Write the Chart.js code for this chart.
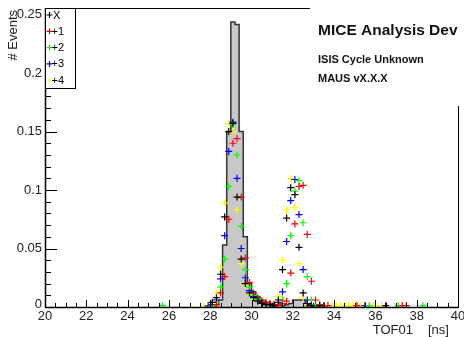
<!DOCTYPE html>
<html>
<head>
<meta charset="utf-8">
<script src="https://cdn.jsdelivr.net/npm/chart.js@4.4.1/dist/chart.umd.min.js"></script>
<style>
  body { margin: 0; background: #fff; }
  canvas { display: block; }
</style>
</head>
<body>
<canvas id="tofChart" width="464" height="337"></canvas>
<script>
// TOF01 bin centres (0.2 ns bins) around the two peaks
var tofBins = [27.7, 27.9, 28.1, 28.3, 28.5, 28.7, 28.9, 29.1, 29.3, 29.5,
               29.7, 29.9, 30.1, 30.3, 30.5, 30.7, 30.9, 31.1, 31.3, 31.5,
               31.7, 31.9, 32.1, 32.3, 32.5, 32.7, 32.9, 33.1, 33.3];

// normalised counts per bin for each run
var evX = [null, null, 0.004, 0.008, 0.028, 0.077, 0.150, 0.157, 0.094, 0.041,
           0.020, 0.012, 0.008, 0.005, 0.003, 0.002, 0.002, 0.001, 0.006, 0.032,
           0.076, 0.102, 0.096, 0.051, 0.012, 0.003, 0.001, null, 0.001];
var ev1 = [null, null, null, 0.002, 0.012, 0.026, 0.075, 0.140, 0.144, 0.094,
           0.042, 0.021, 0.012, 0.008, 0.005, 0.004, 0.003, 0.002, 0.002, 0.003,
           0.005, 0.029, 0.071, 0.103, 0.104, 0.062, 0.022, 0.006, 0.002];
var ev2 = [null, null, 0.001, 0.004, 0.017, 0.041, 0.103, 0.156, 0.130, 0.069,
           0.032, 0.017, 0.010, 0.007, 0.005, 0.003, 0.002, 0.002, 0.002, 0.006,
           0.020, 0.061, 0.099, 0.108, 0.072, 0.026, 0.006, 0.002, 0.001];
var ev3 = [null, 0.001, 0.002, 0.006, 0.024, 0.061, 0.133, 0.158, 0.110, 0.050,
           0.025, 0.014, 0.009, 0.006, 0.004, 0.003, 0.002, 0.002, 0.004, 0.013,
           0.056, 0.091, 0.109, 0.079, 0.032, 0.006, 0.002, 0.001, null];
var ev4 = [0.001, 0.001, 0.002, 0.012, 0.034, 0.089, 0.157, 0.150, 0.083, 0.037,
           0.019, 0.011, 0.007, 0.005, 0.003, 0.002, 0.002, 0.003, 0.009, 0.040,
           0.083, 0.110, 0.085, 0.037, 0.008, 0.002, 0.001, 0.001, 0.001];

// isolated single hits out in the tails
var oneHit = 0.0012;
var tailX = [36.5];
var tail1 = [33.7, 35.1, 37.3, 37.5];
var tail2 = [25.7, 35.7, 37.1, 38.3];
var tail3 = [33.5, 35.5];
var tail4 = [33.5, 33.7, 33.9, 34.1, 34.3, 34.5, 34.7, 34.9, 35.1, 35.3,
             35.5, 35.7, 35.9, 36.1, 36.3];

// reference histogram, 0.2 ns bins starting at 28.2 ns
var histStart = 28.2;
var histWidth = 0.2;
var histValues = [0.002, 0.006, 0.053, 0.150, 0.2436, 0.2414, 0.150, 0.060, 0.020, 0.013,
                  0.009, 0.006, 0.004, 0.003, 0.002, 0.002, 0.001, 0.002, 0.003, 0.006,
                  0.006, 0.006, 0.002, 0.001];

var seriesNames = ['X', '+1', '+2', '+3', '+4'];
var seriesColours = ['#000000', '#ff0000', '#00ff00', '#0000ff', '#ffff00'];

var xTicks = [20, 22, 24, 26, 28, 30, 32, 34, 36, 38, 40];
var yTicks = [0, 0.05, 0.1, 0.15, 0.2, 0.25];
var yTickLabels = ['0', '0.05', '0.1', '0.15', '0.2', '0.25'];

var FONT = '"Liberation Sans", Arial, Helvetica, sans-serif';

function seriesPoints(values, tail) {
    var pts = [];
    tofBins.forEach(function(x, i) {
        if (values[i] != null) pts.push({ x: x, y: values[i] });
    });
    tail.forEach(function(x) { pts.push({ x: x, y: oneHit }); });
    return pts;
}

// bin low edges with their contents, closed at both ends
function histPoints() {
    var pts = [{ x: histStart, y: 0 }];
    histValues.forEach(function(v, i) {
        pts.push({ x: histStart + i * histWidth, y: v });
    });
    pts.push({ x: histStart + histValues.length * histWidth, y: 0 });
    return pts;
}

var allSeries = [evX, ev1, ev2, ev3, ev4];
var allTails = [tailX, tail1, tail2, tail3, tail4];

var datasets = [];
// last run drawn on top
for (var s = seriesNames.length - 1; s >= 0; s--) {
    datasets.push({
        label: seriesNames[s],
        data: seriesPoints(allSeries[s], allTails[s]),
        showLine: false,
        pointStyle: 'cross',
        pointRadius: 3.5,
        pointBorderWidth: 1.2,
        borderColor: seriesColours[s],
        backgroundColor: seriesColours[s],
        order: s + 1
    });
}
datasets.push({
    label: 'ref',
    data: histPoints(),
    stepped: 'before',
    fill: 'origin',
    backgroundColor: '#c8c8c8',
    borderColor: '#333333',
    borderWidth: 1.5,
    pointRadius: 0,
    order: 10
});

// frame, ticks, axis titles, legend and the info box
var rootStyle = {
    id: 'rootStyle',
    afterDraw: function(chart) {
        var ctx = chart.ctx;
        var a = chart.chartArea;
        var xs = chart.scales.x;
        var ys = chart.scales.y;
        ctx.save();
        ctx.strokeStyle = '#000';
        ctx.fillStyle = '#000';

        // frame
        ctx.lineWidth = 1;
        ctx.strokeRect(a.left + 0.5, a.top + 0.5, a.right - a.left, a.bottom - a.top);
        ctx.lineWidth = 1.5;
        ctx.beginPath();
        ctx.moveTo(a.left + 0.5, a.top);
        ctx.lineTo(a.left + 0.5, a.bottom + 0.5);
        ctx.lineTo(a.right, a.bottom + 0.5);
        ctx.stroke();

        // y ticks
        ctx.lineWidth = 1;
        ctx.beginPath();
        for (var k = 0; k <= 25; k++) {
            var yp = Math.round(ys.getPixelForValue(k * 0.01)) + 0.5;
            var len = (k % 5 === 0) ? 12 : 6;
            ctx.moveTo(a.left, yp);
            ctx.lineTo(a.left + len, yp);
        }
        // x ticks
        for (var m = 0; m <= 40; m++) {
            var xv = 20 + m * 0.5;
            var xp = Math.round(xs.getPixelForValue(xv)) + 0.5;
            var l2 = (m % 4 === 0) ? 7 : 4;
            ctx.moveTo(xp, a.bottom);
            ctx.lineTo(xp, a.bottom - l2);
        }
        ctx.stroke();

        // tick labels
        ctx.fillStyle = '#222';
        ctx.font = '13px ' + FONT;
        ctx.textAlign = 'right';
        ctx.textBaseline = 'middle';
        yTicks.forEach(function(v, i) {
            var yp = ys.getPixelForValue(v);
            if (v === 0) yp -= 3;
            ctx.fillText(yTickLabels[i], a.left - 3, yp);
        });
        ctx.textAlign = 'center';
        ctx.textBaseline = 'alphabetic';
        xTicks.forEach(function(v) {
            ctx.fillText(String(v), xs.getPixelForValue(v), 320);
        });

        // axis titles
        ctx.textAlign = 'right';
        ctx.fillText('TOF01', 413, 334);
        ctx.textAlign = 'left';
        ctx.fillText('[ns]', 428, 334);
        ctx.save();
        ctx.translate(17, 10);
        ctx.rotate(-Math.PI / 2);
        ctx.textAlign = 'right';
        ctx.fillText('# Events', 0, 0);
        ctx.restore();

        // legend box
        ctx.fillStyle = '#fff';
        ctx.fillRect(45, 8, 30, 80);
        ctx.strokeStyle = '#000';
        ctx.lineWidth = 1;
        ctx.strokeRect(45.5, 8.5, 30, 80);
        ctx.font = '11px ' + FONT;
        ctx.textAlign = 'left';
        ctx.textBaseline = 'middle';
        seriesNames.forEach(function(name, i) {
            var yp = 15 + i * 16.3;
            ctx.strokeStyle = seriesColours[i];
            ctx.lineWidth = 1.2;
            ctx.beginPath();
            ctx.moveTo(46.5, yp);
            ctx.lineTo(52.5, yp);
            ctx.moveTo(49.5, yp - 3);
            ctx.lineTo(49.5, yp + 3);
            ctx.stroke();
            ctx.fillStyle = '#000';
            ctx.fillText(name, name === 'X' ? 53 : 51.5, yp + 0.5);
        });

        // info box
        ctx.fillStyle = '#fff';
        ctx.fillRect(310, 0, 154, 106);
        ctx.fillStyle = '#111';
        ctx.textBaseline = 'alphabetic';
        ctx.font = 'bold 15.5px ' + FONT;
        ctx.fillText('MICE Analysis Dev', 318, 35);
        ctx.font = 'bold 11px ' + FONT;
        ctx.fillText('ISIS Cycle Unknown', 318, 63);
        ctx.fillText('MAUS vX.X.X', 318, 82);

        ctx.restore();
    }
};

new Chart(document.getElementById('tofChart').getContext('2d'), {
    type: 'line',
    data: { datasets: datasets },
    options: {
        responsive: false,
        animation: false,
        devicePixelRatio: 1,
        layout: { padding: { left: 45, right: 6, top: 8, bottom: 30 } },
        plugins: { legend: { display: false }, tooltip: { enabled: false } },
        scales: {
            x: { type: 'linear', min: 20, max: 40, display: false },
            y: { type: 'linear', min: 0, max: 0.2556, display: false }
        }
    },
    plugins: [rootStyle]
});
</script>
</body>
</html>
